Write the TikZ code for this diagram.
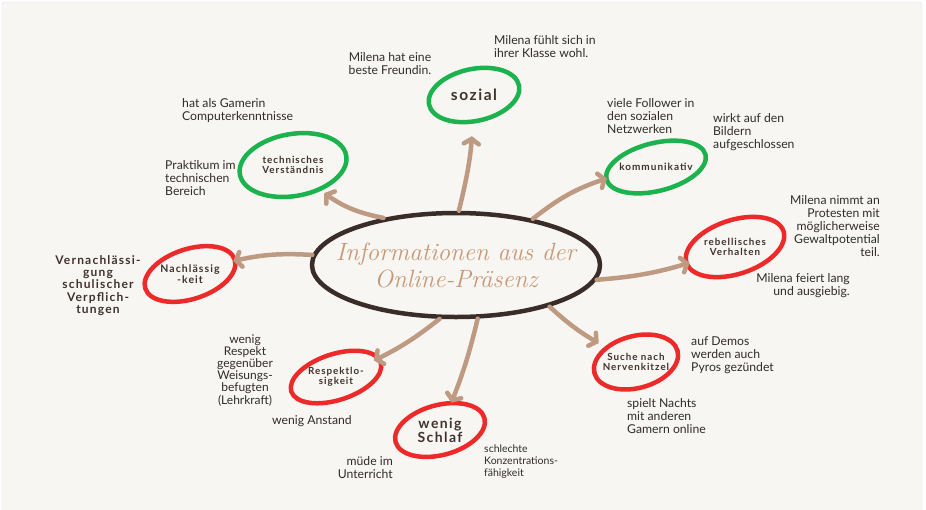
\documentclass[tikz,border=0pt]{standalone}
\usepackage{fontspec}
\newfontfamily\bodyfont{Lato}
\newfontfamily\labfont[LetterSpace=10]{Lato}
\usetikzlibrary{arrows.meta,shapes.geometric}
\definecolor{bgcream}{RGB}{248,246,242}
\definecolor{framegray}{RGB}{222,224,226}
\definecolor{ringdark}{RGB}{58,44,40}
\definecolor{ringgreen}{RGB}{28,178,78}
\definecolor{ringred}{RGB}{236,42,42}
\definecolor{arrowbrown}{RGB}{190,154,130}
\definecolor{titlebrown}{RGB}{198,152,118}
\definecolor{notegray}{RGB}{48,44,44}
\definecolor{labbrown}{RGB}{64,50,46}
\tikzset{
  note/.style={font=\bodyfont\fontsize{12.2}{13}\selectfont,text=notegray,inner sep=0pt},
  lab/.style={font=\labfont\bfseries\fontsize{9.8}{10}\selectfont,text=labbrown,align=center,
    shape=ellipse,inner sep=0pt},
  green ring/.style={draw=ringgreen,line width=4.5pt},
  red ring/.style={draw=ringred,line width=4.5pt},
  arr/.style={draw=arrowbrown,line width=4.5pt,line cap=round,
    -{Straight Barb[length=5pt,width=15pt,line cap=round]},shorten >=2pt},
}
\begin{document}
\begin{tikzpicture}[x=1pt,y=-1pt]
\useasboundingbox (0,0) rectangle (926,509);
\fill[white] (0,0) rectangle (926,509);
\draw[fill=bgcream,draw=framegray,rounded corners=3pt] (2,2) rectangle (922,515);
%% centre
\node (centre) at (456,265) [shape=ellipse,draw=ringdark,line width=4.5pt,
  minimum width=288pt,minimum height=104pt,inner sep=0pt] {};
\node (title) at (centre) [text=titlebrown,font=\itshape\fontsize{25}{27}\selectfont,
  align=center] {Informationen aus der\\Online-Präsenz};
%% satellites
\node (sozial) at (474,95) [lab,minimum width=92pt,minimum height=54pt,font=\labfont\bfseries\fontsize{15.5}{16}\selectfont] {sozial};
\draw[green ring,rotate around={12:(sozial.center)}] (sozial.center) ellipse [x radius=46,y radius=26];
\node (technik) at (293,165) [lab,minimum width=108pt,minimum height=64pt] {technisches\\Verständnis};
\draw[green ring,rotate around={10:(technik.center)}] (technik.center) ellipse [x radius=54,y radius=31];
\node (kommu) at (656,167) [lab,minimum width=102pt,minimum height=50pt,font=\labfont\bfseries\fontsize{10}{10}\selectfont] {kommunikativ};
\draw[green ring,rotate around={14:(kommu.center)}] (kommu.center) ellipse [x radius=51,y radius=24];
\node (rebell) at (735,247) [lab,minimum width=102pt,minimum height=58pt] {rebellisches\\Verhalten};
\draw[red ring,rotate around={18:(rebell.center)}] (rebell.center) ellipse [x radius=51,y radius=27];
\node (nachl) at (190,274) [lab,minimum width=94pt,minimum height=52pt,font=\labfont\bfseries\fontsize{10.5}{11}\selectfont] {Nachlässig\\-keit};
\draw[red ring,rotate around={18:(nachl.center)}] (nachl.center) ellipse [x radius=47,y radius=25];
\node (respekt) at (336,377) [lab,minimum width=94pt,minimum height=48pt] {Respektlo-\\sigkeit};
\draw[red ring,rotate around={18:(respekt.center)}] (respekt.center) ellipse [x radius=47,y radius=23];
\node (schlaf) at (440,430) [lab,minimum width=92pt,minimum height=52pt,font=\labfont\bfseries\fontsize{14}{14}\selectfont] {wenig\\Schlaf};
\draw[red ring,rotate around={15:(schlaf.center)}] (schlaf.center) ellipse [x radius=46,y radius=25];
\node (kitzel) at (636,362) [lab,minimum width=86pt,minimum height=54pt] {Suche nach\\Nervenkitzel};
\draw[red ring,rotate around={15:(kitzel.center)}] (kitzel.center) ellipse [x radius=43,y radius=26];
%% arrows
\draw[arr,shorten >=14pt] (centre.87) to[bend right=5] (sozial);
\draw[arr] (centre.147) to[bend left=12] (technik);
\draw[arr] (centre.31) to[bend left=10] (kommu);
\draw[arr] (centre.-6) to[bend right=6] (rebell);
\draw[arr] (centre.176) to[bend right=8] (nachl);
\draw[arr] (centre.-107) to[bend left=6] (respekt);
\draw[arr] (centre.-68) to[bend left=4] (schlaf);
\draw[arr] (centre.-24) to[bend right=6] (kitzel);
%% notes
\node (freundin) at (390,52) [note,anchor=north,align=center] {Milena hat eine\\beste Freundin.};
\node (klasse) at (494,35) [note,anchor=north west,align=left] {Milena fühlt sich in\\ihrer Klasse wohl.};
\node (gamerin) at (182,98) [note,anchor=north west,align=left] {hat als Gamerin\\Computerkenntnisse};
\node (praktikum) at (165,160) [note,anchor=north west,align=left] {Praktikum im\\technischen\\Bereich};
\node (follower) at (607,98) [note,anchor=north west,align=left] {viele Follower in\\den sozialen\\Netzwerken};
\node (bildern) at (713,113) [note,anchor=north west,align=left] {wirkt auf den\\Bildern\\aufgeschlossen};
\node (protest) at (880,195) [note,anchor=north east,align=right] {Milena nimmt an\\Protesten mit\\möglicherweise\\Gewaltpotential\\teil.};
\node (feiert) at (850,273) [note,anchor=north east,align=right] {Milena feiert lang\\und ausgiebig.};
\node (pflicht) at (98,255) [note,anchor=north,align=center,text=labbrown,
  font=\labfont\bfseries\fontsize{12}{12.4}\selectfont] {Vernachlässi-\\gung\\schulischer\\Verpflich-\\tungen};
\node (weisung) at (245,335) [note,anchor=north,align=center,font=\bodyfont\fontsize{12}{10.5}\selectfont] {wenig\\Respekt\\gegenüber\\Weisungs-\\befugten\\(Lehrkraft)};
\node (anstand) at (312,415) [note,anchor=north] {wenig Anstand};
\node (muede) at (393,456) [note,anchor=north east,align=right] {müde im\\Unterricht};
\node (konzentr) at (484,445) [note,anchor=north west,align=left,font=\bodyfont\fontsize{10.5}{12}\selectfont] {schlechte\\Konzentrations-\\fähigkeit};
\node (demos) at (691,336) [note,anchor=north west,align=left] {auf Demos\\werden auch\\Pyros gezündet};
\node (nachts) at (627,398) [note,anchor=north west,align=left] {spielt Nachts\\mit anderen\\Gamern online};
\end{tikzpicture}
\end{document}
